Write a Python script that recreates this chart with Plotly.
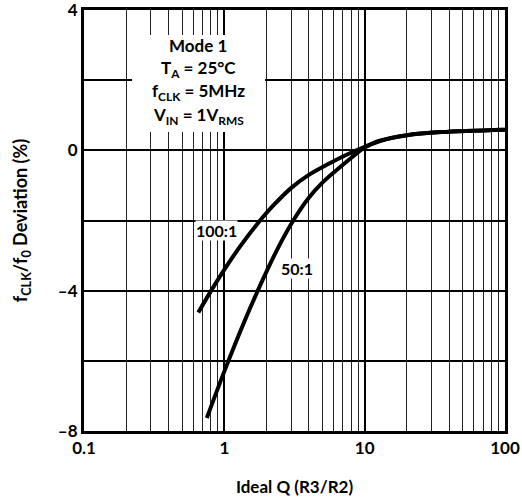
import plotly.graph_objects as go

# Data
q_100 = [0.653, 0.80, 1.0, 1.3, 1.7, 2.2, 3.0, 4.0, 5.5, 7.5, 10.0, 13.0, 20.0, 35.0, 100.0]
dev_100 = [-4.62, -4.02, -3.40, -2.73, -2.12, -1.60, -1.07, -0.70, -0.39, -0.12, 0.10, 0.28, 0.43, 0.52, 0.59]

q_50 = [0.75, 1.0, 1.35, 1.8, 2.4, 3.1, 4.0, 5.0, 6.5, 8.0, 10.0, 13.0, 20.0, 35.0, 100.0]
dev_50 = [-7.63, -6.30, -5.00, -3.85, -2.80, -2.00, -1.35, -0.92, -0.52, -0.22, 0.08, 0.27, 0.43, 0.52, 0.59]

x_ticks = [0.1, 1, 10, 100]
x_ticktext = ["0.1", "1", "10", "100"]
x_minor = [0.2, 0.3, 0.4, 0.5, 0.6, 0.7, 0.8, 0.9,
           2, 3, 4, 5, 6, 7, 8, 9,
           20, 30, 40, 50, 60, 70, 80, 90]
y_ticks = [-8, -4, 0, 4]
y_ticktext = ["–8", "–4", "0", "4"]
y_minor = [-6, -2, 2]

info_lines = ["<b>Mode 1</b>",
              "<b>T<sub>A</sub> = 25°C</b>",
              "<b>f<sub>CLK</sub> = 5MHz</b>",
              "<b>V<sub>IN</sub> = 1V<sub>RMS</sub></b>"]

FONT = "Lato"

fig = go.Figure()
fig.add_trace(go.Scatter(x=q_100, y=dev_100, mode="lines",
                         line=dict(color="black", width=4, shape="spline", smoothing=1.0),
                         showlegend=False))
fig.add_trace(go.Scatter(x=q_50, y=dev_50, mode="lines",
                         line=dict(color="black", width=4, shape="spline", smoothing=1.0),
                         showlegend=False))

fig.update_layout(
    width=522, height=499,
    margin=dict(l=84, r=17, t=10, b=68),
    paper_bgcolor="white", plot_bgcolor="white",
    font=dict(family=FONT, size=16, color="black"),
    xaxis=dict(
        type="log", range=[-1, 2], automargin=False,
        tickvals=x_ticks, ticktext=x_ticktext, ticklabeloverflow="allow",
        showgrid=True, gridcolor="black", gridwidth=2,
        minor=dict(tickvals=x_minor, showgrid=True, gridcolor="#222", gridwidth=1.3, ticks=""),
        ticks="", showline=True, linecolor="black", linewidth=3, mirror=True,
        tickfont=dict(family=FONT, size=17, color="black", weight="bold"),
        title=dict(text="<b>Ideal Q (R3/R2)</b>", font=dict(family=FONT, size=17), standoff=24),
        zeroline=False,
    ),
    yaxis=dict(
        range=[-8, 4], automargin=False,
        tickvals=y_ticks, ticktext=y_ticktext, ticklabeloverflow="allow",
        showgrid=True, gridcolor="black", gridwidth=2,
        minor=dict(tickvals=y_minor, showgrid=True, gridcolor="black", gridwidth=2, ticks=""),
        ticks="", showline=True, linecolor="black", linewidth=3, mirror=True,
        tickfont=dict(family=FONT, size=17, color="black", weight="bold"),
        title=dict(text="<b>f<sub>CLK</sub>/f<sub>0</sub> Deviation (%)</b>",
                   font=dict(family=FONT, size=18), standoff=26),
        zeroline=False,
    ),
)

# white box behind the condition text
fig.add_shape(type="rect", xref="paper", yref="paper",
              x0=0.114, x1=0.430, y0=0.710, y1=0.9406,
              fillcolor="white", line=dict(width=0), layer="above")

line_y = [0.9150, 0.8600, 0.8060, 0.7480]
for txt, yy in zip(info_lines, line_y):
    fig.add_annotation(xref="paper", yref="paper", x=0.271, y=yy,
                       xanchor="center", yanchor="middle", text=txt, showarrow=False,
                       font=dict(family=FONT, size=17, color="black"))

fig.add_annotation(
    x=-0.059, y=-2.29, xref="x", yref="y", text="<b>100:1</b>",
    xanchor="center", yanchor="middle",
    showarrow=False, bgcolor="white", font=dict(family=FONT, size=16, color="black"),
    borderpad=0,
)
fig.add_annotation(
    x=0.518, y=-3.37, xref="x", yref="y", text="<b>50:1</b>",
    xanchor="center", yanchor="middle",
    showarrow=False, bgcolor="white", font=dict(family=FONT, size=16, color="black"),
    borderpad=0,
)

fig.write_html("out.html")
